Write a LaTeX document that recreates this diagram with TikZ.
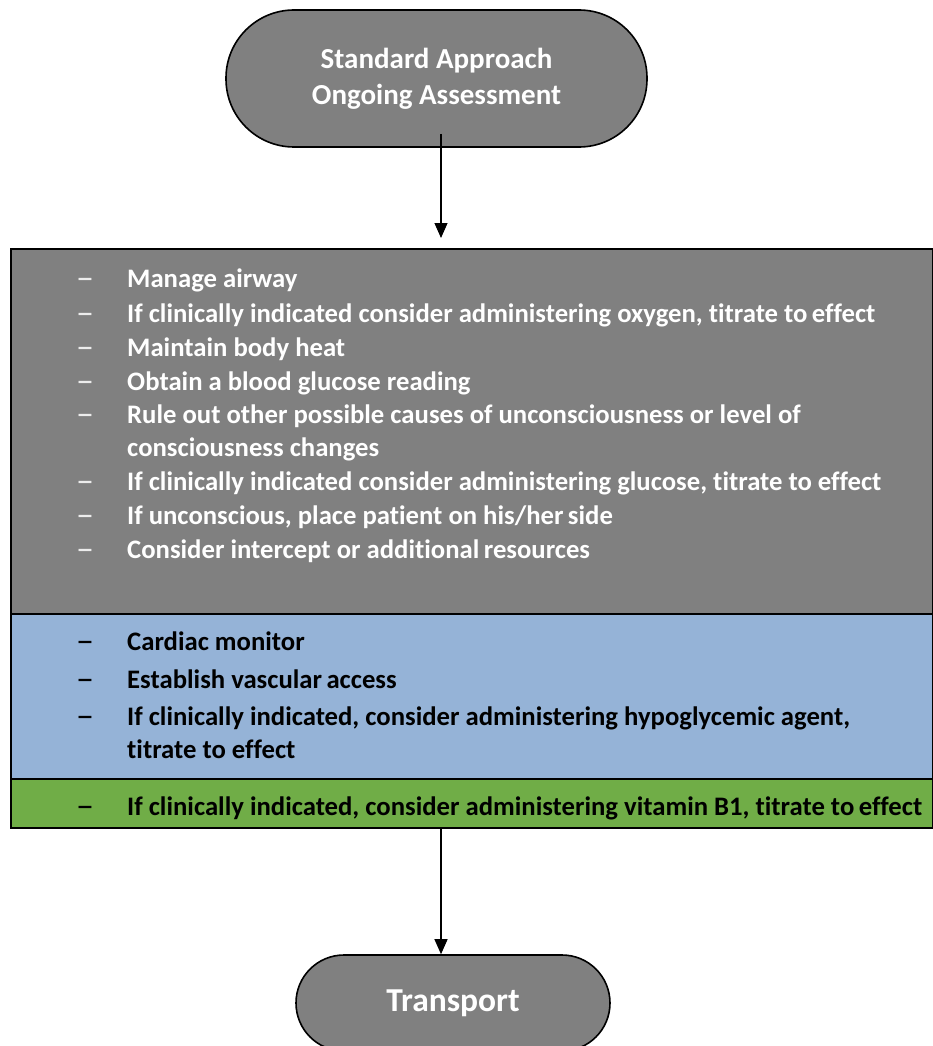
\documentclass[tikz,border=0pt]{standalone}
\usepackage{fontspec}
\setmainfont[Ligatures={NoCommon,NoRequired,NoContextual}]{Carlito}
\usetikzlibrary{arrows.meta}
\definecolor{boxgray}{HTML}{808080}
\definecolor{boxblue}{HTML}{95B3D7}
\definecolor{boxgreen}{HTML}{70AD47}
\tikzset{
  term/.style={draw=black, line width=1.6pt, fill=boxgray, text=white, font=\bfseries, align=center, inner sep=0pt},
  panel/.style={draw=black, line width=1.6pt, anchor=north west, inner sep=0pt},
  item/.style={anchor=base west, inner sep=0pt, font=\fontsize{26.7}{30}\selectfont\bfseries},
  bullet/.style={anchor=base, inner sep=0pt, font=\fontsize{36}{40}\selectfont},
  flow/.style={line width=1.2pt, -{Triangle[width=13pt,length=15pt]}}
}
\begin{document}
\begin{tikzpicture}[x=1pt,y=-1pt]
\useasboundingbox (0,0) rectangle (933,1046);
% terminators
\node[term, minimum width=421pt, minimum height=137pt, rounded corners=68pt,
  font=\fontsize{29}{36}\selectfont\bfseries] (start) at (436.5,78.5)
  {\raisebox{-2pt}{\parbox{300pt}{\centering Standard Approach\\Ongoing Assessment}}};
\node[term, minimum width=314pt, minimum height=96pt, rounded corners=48pt,
  font=\fontsize{33.5}{36}\selectfont\bfseries] (transport) at (453,1003) {Transport};
% panels
\node[panel, fill=boxgray, minimum width=922pt, minimum height=365pt] (gray) at (10,248) {};
\node[panel, fill=boxblue, minimum width=922pt, minimum height=165pt] (blue) at (10,613) {};
\node[panel, fill=boxgreen, minimum width=922pt, minimum height=49pt] (green) at (10,778) {};
% gray items
\foreach \y/\t [count=\i] in {287/{Manage airway},
  322/{If clinically indicated consider administering oxygen, titrate to\,effect},
  356/{Maintain body heat},
  390/{Obtain a blood glucose reading},
  423/{Rule out other possible causes of unconsciousness or level of},
  490/{If clinically indicated consider administering glucose, titrate to effect},
  524/{If unconscious, place patient on his/her\,side},
  558/{Consider intercept or additional\,resources}}{
  \node[bullet, text=white!85!gray] (gd\i) at (85,\y+2) {–};
  \node[item, text=white] (gt\i) at (127,\y) {\t};
}
\node[item, text=white] (gt9) at (127,456) {consciousness changes};
% blue items
\foreach \y/\t [count=\i] in {650/{Cardiac monitor},
  688/{Establish vascular\,access},
  725/{If clinically indicated, consider administering hypoglycemic agent,}}{
  \node[bullet, text=black] (bd\i) at (85,\y+2) {–};
  \node[item, text=black] (bt\i) at (127,\y) {\t};
}
\node[item, text=black] (bt4) at (127,758) {titrate to effect};
% green item
\node[bullet, text=black] (ed1) at (85,817) {–};
\node[item, text=black] (et1) at (127,815) {If clinically indicated, consider administering vitamin B1, titrate to\,effect};
% connectors
\draw[flow, shorten >=10pt] ([yshift=14pt]start.south -| 441,0) -- (gray.north -| 441,0);
\draw[flow] (green.south -| 441,0) -- (transport.north -| 441,0);
\end{tikzpicture}
\end{document}
